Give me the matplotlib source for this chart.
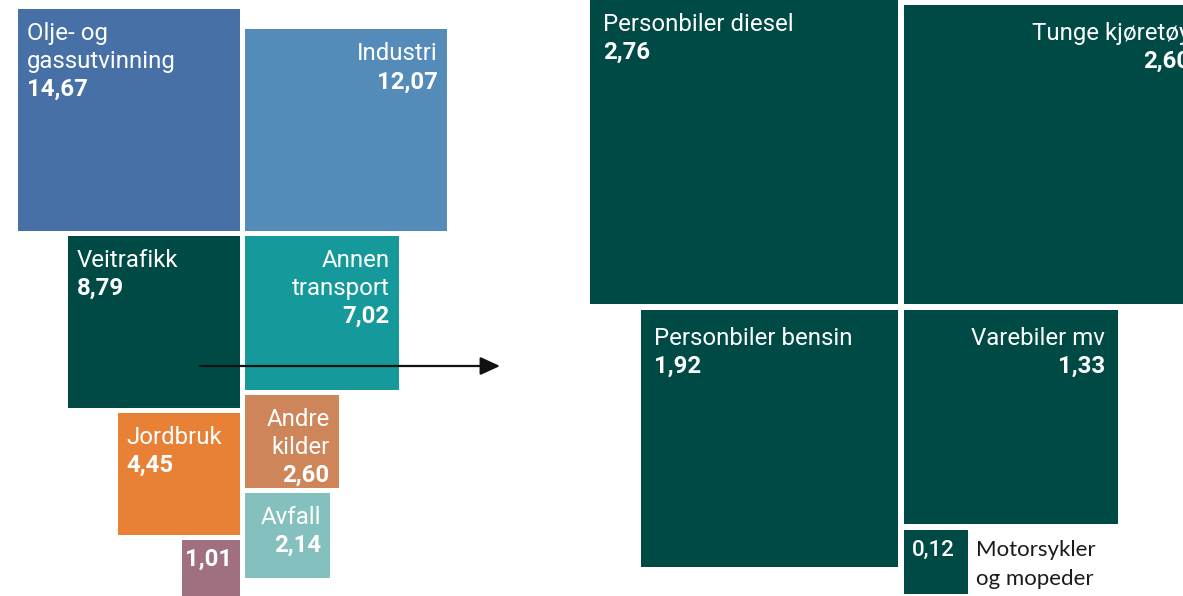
import matplotlib.pyplot as plt
from matplotlib.patches import Rectangle
import numpy as np

# Utslipp per kilde (mill. tonn CO2-ekv.)
sector_names = ["Olje- og\ngassutvinning", "Industri", "Veitrafikk", "Annen\ntransport",
                "Jordbruk", "Andre\nkilder", "Avfall", ""]
sector_values = [14.67, 12.07, 8.79, 7.02, 4.45, 2.60, 2.14, 1.01]
sector_colors = ["#4670A6", "#548BB9", "#004A45", "#16999A",
                 "#E88035", "#CE855A", "#84C1BE", "#A06F80"]
sector_side = ["L", "R", "L", "R", "L", "R", "R", "L"]

# Veitrafikk fordelt
road_names = ["Personbiler diesel", "Tunge kjøretøy", "Personbiler bensin", "Varebiler mv",
              "Motorsykler\nog mopeder"]
road_values = [2.76, 2.60, 1.92, 1.33, 0.12]
road_side = ["L", "R", "L", "R", "R"]
ROAD_COLOR = "#004A45"

W, H = 1183, 596
FONT = "Roboto"
FS = 17.3


def fmt(v):
    return f"{v:.2f}".replace(".", ",")


def stack(values, sides, cx, base, scale, gap):
    """Square side ~ sqrt(value); first row bottom-aligned at base, rest stacked downward."""
    boxes = []
    bottoms = {"L": None, "R": None}
    for v, side in zip(values, sides):
        s = scale * np.sqrt(v)
        if bottoms[side] is None:
            top = base - s
        else:
            top = bottoms[side] + gap
        bottoms[side] = top + s
        x = cx - gap / 2 - s if side == "L" else cx + gap / 2
        boxes.append((x, top, s))
    return boxes


def label(ax, box, side, name, value, pad, first_base, line=28, weight="bold"):
    x, top, s = box
    lines = name.split("\n") if name else []
    if side == "L":
        tx, ha = x + pad, "left"
    else:
        tx, ha = x + s - pad, "right"
    y = top + first_base
    for ln in lines:
        ax.text(tx, y, ln, ha=ha, va="baseline", color="white", fontsize=FS, family=FONT)
        y += line
    ax.text(tx, y, fmt(value), ha=ha, va="baseline", color="white", fontsize=FS,
            family=FONT, fontweight=weight)


fig = plt.figure(figsize=(W / 100, H / 100), dpi=100)
ax = fig.add_axes([0, 0, 1, 1])
ax.set_xlim(0, W)
ax.set_ylim(H, 0)
ax.axis("off")

# left panel
left_boxes = stack(sector_values, sector_side, cx=242.5, base=231, scale=58, gap=5)
for box, c in zip(left_boxes, sector_colors):
    x, top, s = box
    ax.add_patch(Rectangle((x, top), s, s, facecolor=c, edgecolor="none"))
for box, side, name, v in zip(left_boxes, sector_side, sector_names, sector_values):
    if name:
        label(ax, box, side, name, v, pad=9, first_base=31)
    else:
        label(ax, box, "R", name, v, pad=8, first_base=25)

# right panel
right_boxes = stack(road_values, road_side, cx=901, base=304, scale=185.5, gap=6)
for box in right_boxes:
    x, top, s = box
    ax.add_patch(Rectangle((x, top), s, s, facecolor=ROAD_COLOR, edgecolor="none"))
for box, side, name, v in zip(right_boxes, road_side, road_names, road_values):
    x, top, s = box
    if v < 0.5:
        ax.text(x + 8, top + 26, fmt(v), ha="left", va="baseline", color="white",
                fontsize=16, family=FONT, fontweight="medium")
        for i, ln in enumerate(name.split("\n")):
            ax.text(x + s + 8, top + 26 + i * 29, ln, ha="left", va="baseline",
                    color="#1a1a1a", fontsize=16, family="Lato")
    else:
        label(ax, box, side, name, v, pad=13, first_base=35)

# arrow from Veitrafikk to its breakdown
ax.annotate("", xy=(500, 366), xytext=(200, 366),
            arrowprops=dict(arrowstyle="-|>,head_length=1.2,head_width=0.55",
                            color="#111111", lw=1.6, shrinkA=0, shrinkB=0))

fig.savefig("out.png", dpi=100)
